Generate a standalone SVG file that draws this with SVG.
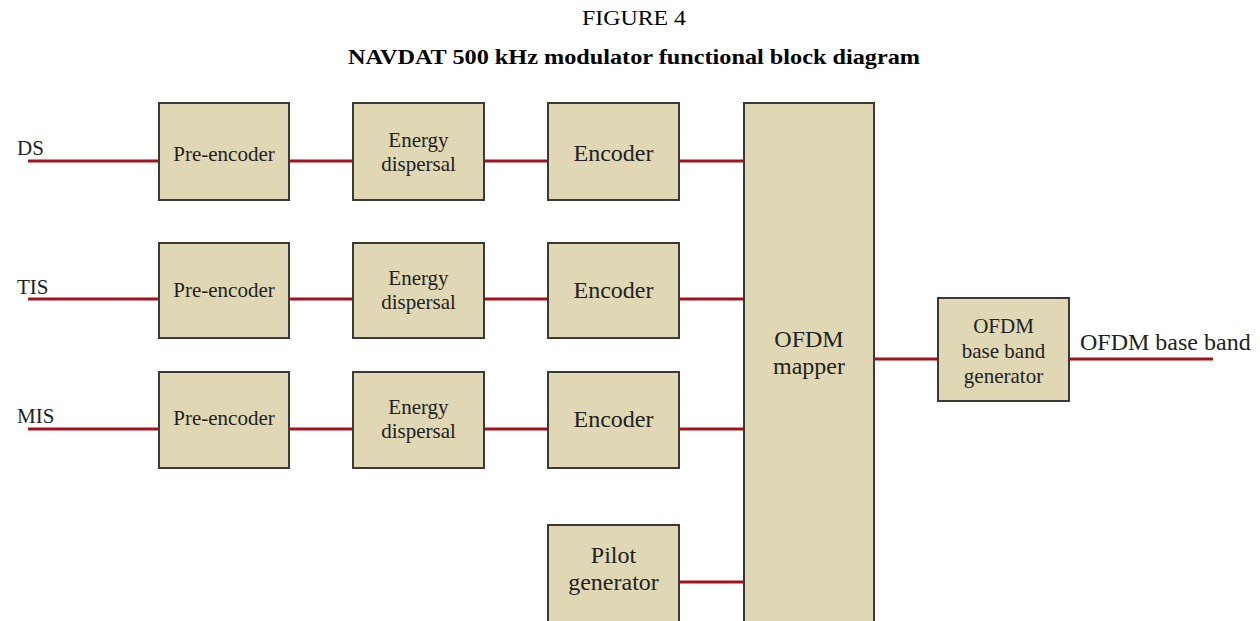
<svg xmlns="http://www.w3.org/2000/svg" width="1260" height="621" viewBox="0 0 1260 621">
<style>
.box{fill:#e0d7b5;stroke:#3a3a36;stroke-width:2}
.t{font-family:"Liberation Serif","Times New Roman",serif;font-size:21px;fill:#222;text-anchor:middle}
.big{font-size:24px}
.lbl{font-family:"Liberation Serif","Times New Roman",serif;font-size:21px;fill:#222}
.c{stroke:#a3121c;stroke-width:3;fill:none}
</style>
<rect width="1260" height="621" fill="#ffffff"/>
<g id="title">
<text x="634" y="25" textLength="104" lengthAdjust="spacingAndGlyphs" style="font-family:'Liberation Serif',serif;font-size:20px;fill:#000;text-anchor:middle">FIGURE 4</text>
<text x="634" y="64" textLength="572" lengthAdjust="spacingAndGlyphs" style="font-family:'Liberation Serif',serif;font-size:22px;font-weight:bold;fill:#000;text-anchor:middle">NAVDAT 500 kHz modulator functional block diagram</text>
</g>
<g id="connectors">
<line class="c" x1="28" y1="161" x2="159" y2="161"/>
<line class="c" x1="289" y1="161" x2="353" y2="161"/>
<line class="c" x1="484" y1="161" x2="548" y2="161"/>
<line class="c" x1="679" y1="161" x2="744" y2="161"/>
<line class="c" x1="28" y1="299" x2="159" y2="299"/>
<line class="c" x1="289" y1="299" x2="353" y2="299"/>
<line class="c" x1="484" y1="299" x2="548" y2="299"/>
<line class="c" x1="679" y1="299" x2="744" y2="299"/>
<line class="c" x1="28" y1="429" x2="159" y2="429"/>
<line class="c" x1="289" y1="429" x2="353" y2="429"/>
<line class="c" x1="484" y1="429" x2="548" y2="429"/>
<line class="c" x1="679" y1="429" x2="744" y2="429"/>
<line class="c" x1="679" y1="582" x2="744" y2="582"/>
<line class="c" x1="874" y1="359" x2="938" y2="359"/>
<line class="c" x1="1069" y1="359" x2="1213" y2="359"/>
</g>
<g id="labels">
<text class="lbl" x="17" y="155">DS</text>
<text class="lbl" x="17" y="294">TIS</text>
<text class="lbl" x="17" y="423">MIS</text>
<text class="lbl" x="1080" y="350" style="font-size:24px">OFDM base band</text>
</g>
<g id="pre1"><rect class="box" x="159" y="103" width="130" height="97"/><text class="t" x="224" y="161">Pre-encoder</text></g>
<g id="ed1"><rect class="box" x="353" y="103" width="131" height="97"/><text class="t" x="418.5" y="147">Energy</text><text class="t" x="418.5" y="171">dispersal</text></g>
<g id="enc1"><rect class="box" x="548" y="103" width="131" height="97"/><text class="t big" x="613.5" y="161">Encoder</text></g>
<g id="pre2"><rect class="box" x="159" y="243" width="130" height="95"/><text class="t" x="224" y="297">Pre-encoder</text></g>
<g id="ed2"><rect class="box" x="353" y="243" width="131" height="95"/><text class="t" x="418.5" y="285">Energy</text><text class="t" x="418.5" y="309">dispersal</text></g>
<g id="enc2"><rect class="box" x="548" y="243" width="131" height="95"/><text class="t big" x="613.5" y="298">Encoder</text></g>
<g id="pre3"><rect class="box" x="159" y="372" width="130" height="96"/><text class="t" x="224" y="425">Pre-encoder</text></g>
<g id="ed3"><rect class="box" x="353" y="372" width="131" height="96"/><text class="t" x="418.5" y="414">Energy</text><text class="t" x="418.5" y="438">dispersal</text></g>
<g id="enc3"><rect class="box" x="548" y="372" width="131" height="96"/><text class="t big" x="613.5" y="427">Encoder</text></g>
<g id="pilot"><rect class="box" x="548" y="525" width="131" height="100"/><text class="t big" x="613.5" y="563">Pilot</text><text class="t big" x="613.5" y="590">generator</text></g>
<g id="mapper"><rect class="box" x="744" y="103" width="130" height="522"/><text class="t big" x="809" y="347">OFDM</text><text class="t big" x="809" y="374">mapper</text></g>
<g id="gen"><rect class="box" x="938" y="298" width="131" height="103"/><text class="t" x="1003.5" y="333">OFDM</text><text class="t" x="1003.5" y="358">base band</text><text class="t" x="1003.5" y="383">generator</text></g>
</svg>
